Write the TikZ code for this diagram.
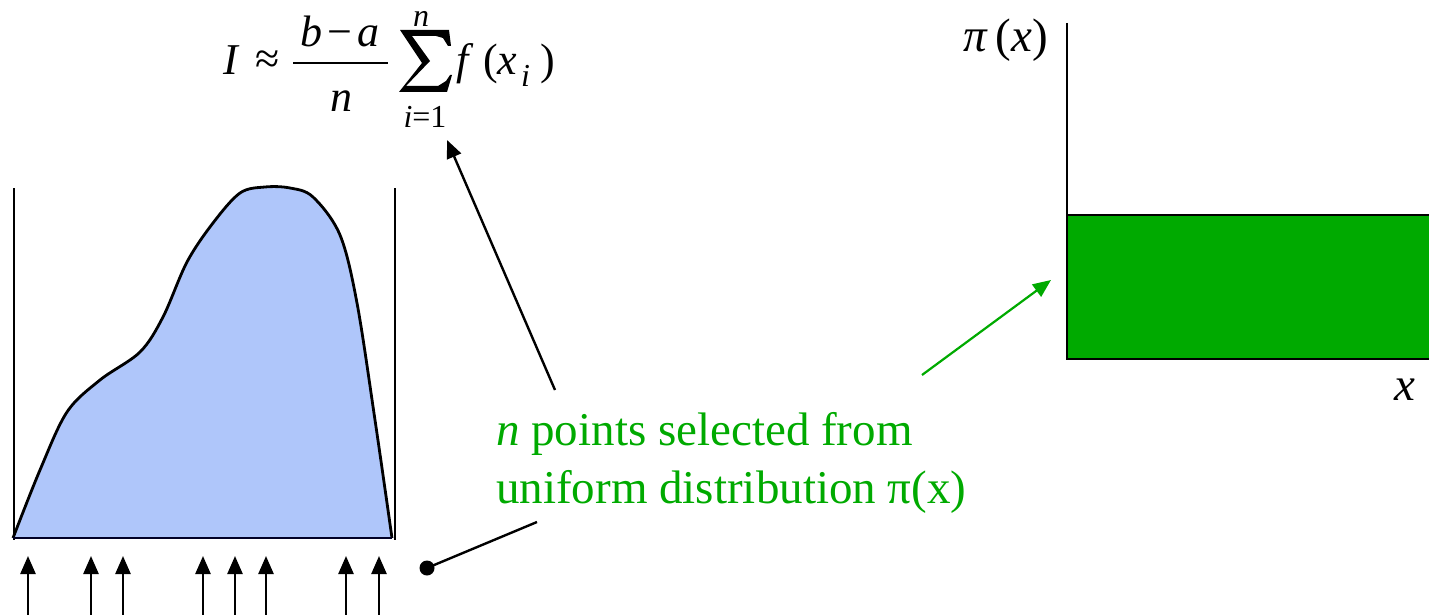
\documentclass[tikz,border=0pt]{standalone}
\usepackage{fontspec}
\setmainfont{Liberation Serif}
\usetikzlibrary{arrows.meta}
\definecolor{ggreen}{RGB}{0,170,0}
\definecolor{fblue}{RGB}{175,198,250}
\begin{document}
\begin{tikzpicture}[x=1pt,y=-1pt,
  thinline/.style={line width=2.4pt},
  uparrow/.style={line width=2.5pt,-{Triangle[width=15pt,length=18pt]}},
  pointer/.style={line width=2.4pt,-{Triangle[width=15pt,length=18pt]}},
  lbl/.style={inner sep=0pt,font=\fontsize{47}{58}\selectfont},
  fbig/.style={inner sep=0pt,anchor=base west,font=\fontsize{44}{50}\selectfont},
  fsmall/.style={inner sep=0pt,anchor=base,font=\fontsize{32}{36}\selectfont}]
\useasboundingbox (0,0) rectangle (1429,615);
\clip (0,0) rectangle (1429,615);
% left plot
\draw[thinline] (14,188) -- (14,540);
\draw[thinline] (395,188) -- (395,540);
\fill[fblue] plot[smooth,tension=0.55] coordinates {(13,538) (40,470) (67,412) (100,380) (140,352) (163,317) (187,262) (213,223) (240,193) (265,187) (290,188) (313,197) (340,235) (357,303) (375,420) (392,538)} -- cycle;
\draw[line width=2.8pt,line join=round] plot[smooth,tension=0.55] coordinates {(13,538) (40,470) (67,412) (100,380) (140,352) (163,317) (187,262) (213,223) (240,193) (265,187) (290,188) (313,197) (340,235) (357,303) (375,420) (392,538)};
\draw[line width=2.4pt,draw=black!85!blue] (13,538) -- (392,538);
% sample arrows
\foreach \xx [count=\k] in {28,91,123,203,235,266,346,379}{
  \coordinate (s\k) at (\xx,620);
  \coordinate (t\k) at (\xx,556);
  \draw[uparrow] (s\k) -- (t\k);
}
% formula
\node[fbig] (fI) at (223,75) {\textit{I}};
\node[inner sep=0pt,font=\fontsize{44}{50}\selectfont] (fapprox) at (268,62) {≈};
\node[fbig,anchor=base] (fnum) at (340,47) {\textit{b}\kern5pt−\kern5pt\textit{a}};
\draw[line width=2pt] (293,63) -- (388,63);
\node[fbig,anchor=base] (fden) at (341,112) {\textit{n}};
\fill (400,30) -- (449,30) -- (451,46) -- (448,46) -- (443,38) -- (436,36) -- (412,36)
  -- (430,61) -- (406,86) -- (438,86) -- (446,81) -- (450,75) -- (452,75) -- (447,92)
  -- (399,92) -- (422,63) -- cycle;
\node[fsmall] (fsup) at (421,27) {\textit{n}};
\node[fsmall] (fsub) at (425,128) {\textit{i}=1};
\node[fbig] (ff) at (456,75) {\textit{f}};
\node[fbig] (fpl) at (483,75) {(};
\node[fbig] (fx) at (497,75) {\textit{x}};
\node[fsmall,anchor=base west] (fi) at (521,87) {\textit{i}};
\node[fbig] (fpr) at (540,75) {)};
\coordinate (sumtip) at (447,140);
% label
\node[lbl,text=ggreen,align=left,anchor=north west] (label) at (496,412)
  {\textit{n} points selected from\\uniform distribution π(x)};
\coordinate (lblA) at (555,390);
\coordinate (lblB) at (922,375);
\coordinate (lblC) at (537,522);
\draw[pointer] (lblA) -- (sumtip);
% dot
\node[circle,fill=black,minimum size=15pt,inner sep=0pt] (dot) at (427,568) {};
\draw[line width=2.4pt] (dot.center) -- (lblC);
% right plot
\coordinate (rtip) at (1051,280);
\draw[pointer,draw=ggreen,fill=ggreen,line width=2.2pt] (lblB) -- (rtip);
\fill[ggreen] (1067,215) rectangle (1440,359);
\draw[line width=2.6pt] (1440,215) -- (1067,215);
\draw[line width=2.4pt] (1067,23) -- (1067,359) -- (1440,359);
\node[inner sep=0pt,anchor=east,font=\fontsize{47}{58}\selectfont] (pilbl) at (1048,40) {\textit{π}\,(\textit{x})};
\node[inner sep=0pt,font=\fontsize{47}{58}\selectfont] (xlbl) at (1405,390) {\textit{x}};
\end{tikzpicture}
\end{document}
